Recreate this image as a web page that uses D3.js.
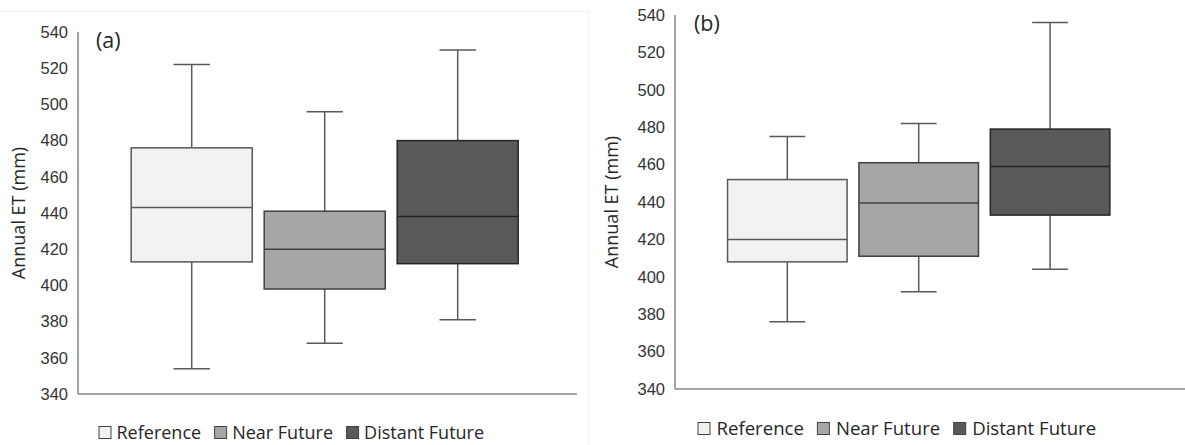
<!DOCTYPE html>
<html>
<head>
<meta charset="utf-8">
<script src="https://cdn.jsdelivr.net/npm/d3@7"></script>
<style>
  body { margin: 0; background: #fff; }
  svg { display: block; font-family: "Open Sans", sans-serif; }
</style>
</head>
<body>
<div id="chart"></div>
<script>
// categories / series
var categories = ["Reference", "Near Future", "Distant Future"];
var yTicks = [340, 360, 380, 400, 420, 440, 460, 480, 500, 520, 540];

// panel (a) box statistics
var aMin    = [354, 368, 381];
var aQ1     = [413, 398, 412];
var aMedian = [443, 420, 438];
var aQ3     = [476, 441, 480];
var aMax    = [522, 496, 530];

// panel (b) box statistics
var bMin    = [376, 392, 404];
var bQ1     = [408, 411, 433];
var bMedian = [420, 439.5, 459];
var bQ3     = [452, 461, 479];
var bMax    = [475, 482, 536];

var fills   = ["#f2f2f2", "#a6a6a6", "#595959"];
var strokes = ["#595959", "#404040", "#262626"];

var W = 1185, H = 445;

var svg = d3.select("#chart").append("svg")
    .attr("width", W)
    .attr("height", H);

// faint frame of the left chart object
svg.append("path")
    .attr("d", "M0,11.5H588.5V445")
    .attr("fill", "none")
    .attr("stroke", "#f2f2f2")
    .attr("stroke-width", 1);

function drawPanel(p) {
  var rows = categories.map(function(c, i) {
    return {key: c, i: i, min: p.min[i], q1: p.q1[i], med: p.med[i], q3: p.q3[i], max: p.max[i]};
  });

  var y = d3.scaleLinear()
      .domain([340, 540])
      .range([p.yBottom, p.yTop]);

  var x = d3.scaleBand()
      .domain(categories)
      .range([p.left, p.bandEnd])
      .paddingInner(0.09)
      .paddingOuter(0.4);

  var g = svg.append("g");

  // y axis: labels only, no tick marks
  var yAxis = g.append("g")
      .attr("transform", "translate(" + p.left + ",0)")
      .call(d3.axisLeft(y).tickValues(yTicks).tickSize(0).tickPadding(10));
  yAxis.select(".domain").remove();
  yAxis.selectAll("text")
      .attr("fill", "#333333")
      .style("font-size", "16.5px");

  g.append("line")
      .attr("x1", p.left).attr("x2", p.left)
      .attr("y1", y(540)).attr("y2", y(340))
      .attr("stroke", "#868686")
      .attr("stroke-width", 1.5);
  g.append("line")
      .attr("x1", p.left).attr("x2", p.axisEnd)
      .attr("y1", y(340)).attr("y2", y(340))
      .attr("stroke", "#868686")
      .attr("stroke-width", 1.5);

  // y title
  g.append("text")
      .attr("transform", "translate(" + p.titleX + "," + ((y(540) + y(340)) / 2) + ")rotate(-90)")
      .attr("text-anchor", "middle")
      .attr("fill", "#262626")
      .style("font-size", "18px")
      .text("Annual ET (mm)");

  // panel label
  g.append("text")
      .attr("x", p.labelX)
      .attr("y", p.labelY)
      .attr("fill", "#262626")
      .style("font-size", "21.5px")
      .text(p.label);

  var box = g.selectAll(".box")
      .data(rows)
      .enter().append("g")
      .attr("class", "box");

  var cx = function(d) { return x(d.key) + x.bandwidth() / 2; };
  var capW = x.bandwidth() * 0.3;

  // whiskers
  box.append("line")
      .attr("x1", cx).attr("x2", cx)
      .attr("y1", function(d) { return y(d.max); })
      .attr("y2", function(d) { return y(d.q3); })
      .attr("stroke", "#595959").attr("stroke-width", 1.5);
  box.append("line")
      .attr("x1", cx).attr("x2", cx)
      .attr("y1", function(d) { return y(d.q1); })
      .attr("y2", function(d) { return y(d.min); })
      .attr("stroke", "#595959").attr("stroke-width", 1.5);
  box.append("line")
      .attr("x1", function(d) { return cx(d) - capW / 2; })
      .attr("x2", function(d) { return cx(d) + capW / 2; })
      .attr("y1", function(d) { return y(d.max); })
      .attr("y2", function(d) { return y(d.max); })
      .attr("stroke", "#595959").attr("stroke-width", 1.5);
  box.append("line")
      .attr("x1", function(d) { return cx(d) - capW / 2; })
      .attr("x2", function(d) { return cx(d) + capW / 2; })
      .attr("y1", function(d) { return y(d.min); })
      .attr("y2", function(d) { return y(d.min); })
      .attr("stroke", "#595959").attr("stroke-width", 1.5);

  // boxes
  box.append("rect")
      .attr("x", function(d) { return x(d.key); })
      .attr("y", function(d) { return y(d.q3); })
      .attr("width", x.bandwidth())
      .attr("height", function(d) { return y(d.q1) - y(d.q3); })
      .attr("fill", function(d) { return fills[d.i]; })
      .attr("stroke", function(d) { return strokes[d.i]; })
      .attr("stroke-width", 1.5);

  // medians
  box.append("line")
      .attr("x1", function(d) { return x(d.key); })
      .attr("x2", function(d) { return x(d.key) + x.bandwidth(); })
      .attr("y1", function(d) { return y(d.med); })
      .attr("y2", function(d) { return y(d.med); })
      .attr("stroke", function(d) { return strokes[d.i]; })
      .attr("stroke-width", 1.5);

  // legend
  var lg = g.append("g")
      .attr("transform", "translate(" + p.legendX + "," + p.legendY + ")");
  var cursor = 0;
  categories.forEach(function(c, i) {
    lg.append("rect")
        .attr("x", cursor + 0.5)
        .attr("y", -12.5)
        .attr("width", 12)
        .attr("height", 12)
        .attr("fill", fills[i])
        .attr("stroke", "#404040")
        .attr("stroke-width", 1);
    var t = lg.append("text")
        .attr("x", cursor + p.legendGap)
        .attr("y", 0)
        .attr("fill", "#262626")
        .style("font-size", p.legendSize + "px")
        .text(c);
    cursor += p.legendGap + t.node().getComputedTextLength() + 13;
  });
}

drawPanel({
  label: "(a)", min: aMin, q1: aQ1, med: aMedian, q3: aQ3, max: aMax,
  yTop: 32, yBottom: 394, left: 78, bandEnd: 571.4, axisEnd: 577,
  titleX: 24.5, labelX: 96, labelY: 48, legendX: 98.5, legendY: 439,
  legendGap: 18, legendSize: 18
});

drawPanel({
  label: "(b)", min: bMin, q1: bQ1, med: bMedian, q3: bQ3, max: bMax,
  yTop: 15, yBottom: 389, left: 675, bandEnd: 1162.4, axisEnd: 1185,
  titleX: 618, labelX: 694, labelY: 31, legendX: 697.5, legendY: 435,
  legendGap: 19, legendSize: 18.6
});
</script>
</body>
</html>
